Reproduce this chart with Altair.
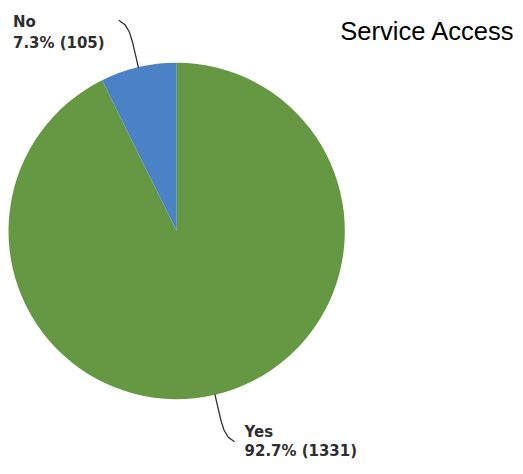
import math
import altair as alt
import pandas as pd

# ---- data ----
categories = ["Yes", "No"]
counts = [1331, 105]
title_text = "Service Access"

# ---- style ----
colors = ["#669742", "#4a82c5"]
W, H = 500, 452
CX, CY = 168, 223          # pie centre inside plot area
R = 168.5                  # pie radius
leader_r = [168, 182, 195, 205, 213, 219]
leader_dt = [0, 0, 0, -0.2, -0.9, -2.2]
label_dx = {"Yes": 10, "No": -106}
label_dy = {"Yes": [-5, 14], "No": [7, 28]}

total = sum(counts)
pie_df = pd.DataFrame({"category": categories, "count": counts,
                       "order": list(range(len(categories)))})

line_rows, text_rows = [], []
cum = 0
for cat, c in zip(categories, counts):
    mid = (cum + c / 2) / total * 360
    cum += c
    for i, (r, dt) in enumerate(zip(leader_r, leader_dt)):
        a = math.radians(mid + dt)
        line_rows.append(dict(category=cat, i=i, x=r * math.sin(a), y=-r * math.cos(a)))
    ex, ey = line_rows[-1]["x"], line_rows[-1]["y"]
    pct = c / total * 100
    text_rows.append(dict(category=cat, x=ex + label_dx[cat], y=ey + label_dy[cat][0], text=cat))
    text_rows.append(dict(category=cat, x=ex + label_dx[cat], y=ey + label_dy[cat][1],
                          text=f"{pct:.1f}% ({c})"))

line_df = pd.DataFrame(line_rows)
text_df = pd.DataFrame(text_rows)

xs = alt.Scale(domain=[-CX, W - CX], nice=False, zero=False)
ys = alt.Scale(domain=[-CY, H - CY], reverse=True, nice=False, zero=False)

arc = alt.Chart(pie_df).mark_arc(outerRadius=R).encode(
    theta=alt.Theta("count:Q", stack=True),
    color=alt.Color("category:N", scale=alt.Scale(domain=categories, range=colors), legend=None),
    order=alt.Order("order:Q"),
    x=alt.value(CX),
    y=alt.value(CY),
)

lines = alt.Chart(line_df).mark_line(color="#333333", strokeWidth=1.3).encode(
    x=alt.X("x:Q", scale=xs, axis=None),
    y=alt.Y("y:Q", scale=ys, axis=None),
    detail="category:N",
    order="i:Q",
)

labels = alt.Chart(text_df).mark_text(
    align="left", baseline="alphabetic", font="DejaVu Sans", fontWeight="bold",
    fontSize=15, color="#2e2e2e"
).encode(
    x=alt.X("x:Q", scale=xs, axis=None),
    y=alt.Y("y:Q", scale=ys, axis=None),
    text="text:N",
)

title = alt.Chart(pd.DataFrame({"t": [title_text]})).mark_text(
    align="left", baseline="alphabetic", font="Liberation Sans", fontSize=25.6, color="black"
).encode(text="t:N", x=alt.value(332), y=alt.value(32))

chart = alt.layer(arc, lines, labels, title).properties(
    width=W, height=H, padding=0
).configure_view(stroke=None)

chart.save("out.html", embed_options={"renderer": "svg", "actions": False})
